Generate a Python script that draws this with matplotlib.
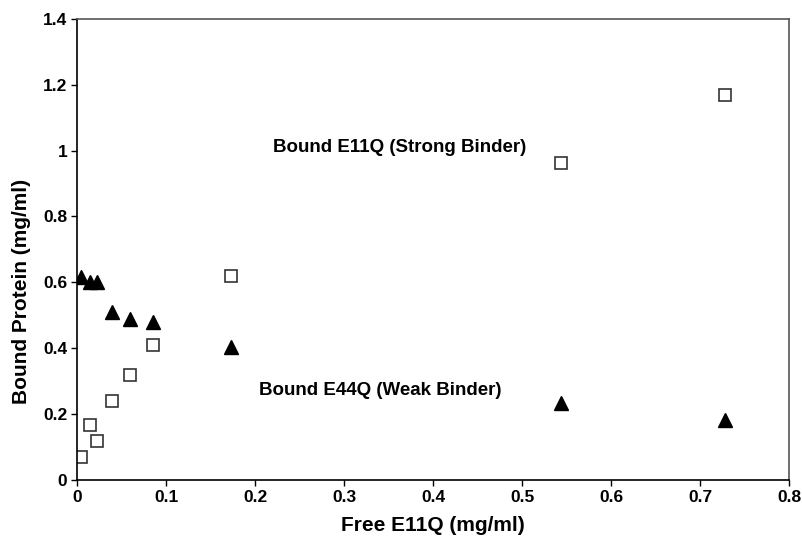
import matplotlib
matplotlib.use("Agg")
import matplotlib.pyplot as plt
from matplotlib.ticker import FuncFormatter

plt.rcParams['font.family'] = ['Liberation Sans', 'DejaVu Sans']
plt.rcParams['font.weight'] = 'bold'

# free E11Q (mg/ml)
free_x = [0.005, 0.015, 0.022, 0.039, 0.060, 0.085, 0.173, 0.544, 0.728]
# bound protein (mg/ml)
strong_y = [0.07, 0.167, 0.118, 0.24, 0.318, 0.41, 0.62, 0.963, 1.168]
weak_y = [0.615, 0.60, 0.60, 0.51, 0.49, 0.48, 0.405, 0.233, 0.183]

xticks = [0, 0.1, 0.2, 0.3, 0.4, 0.5, 0.6, 0.7, 0.8]
yticks = [0, 0.2, 0.4, 0.6, 0.8, 1.0, 1.2, 1.4]

fig = plt.figure(figsize=(8.02, 5.37), dpi=100)
ax = fig.add_axes([0.096, 0.106, 0.888, 0.859])

ax.plot(free_x, strong_y, ls='none', marker='s', ms=9, mfc='white',
        mec='#333333', mew=1.2)
ax.plot(free_x, weak_y, ls='none', marker='^', ms=10, mfc='black',
        mec='black')

ax.text(0.22, 1.01, "Bound E11Q (Strong Binder)", fontsize=13.5, fontweight='bold',
        va='center', ha='left')
ax.text(0.204, 0.273, "Bound E44Q (Weak Binder)", fontsize=13.5, fontweight='bold',
        va='center', ha='left')

ax.set_xlim(0, 0.8)
ax.set_ylim(0, 1.4)
ax.set_xticks(xticks)
ax.set_yticks(yticks)
ax.xaxis.set_major_formatter(FuncFormatter(lambda v, p: f"{v:g}"))
ax.yaxis.set_major_formatter(FuncFormatter(lambda v, p: f"{v:g}"))
ax.tick_params(direction='out', length=4, width=1, labelsize=12.5, pad=3)
for lab in ax.get_xticklabels() + ax.get_yticklabels():
    lab.set_fontweight('bold')

for s in ['top', 'right']:
    ax.spines[s].set_color('#555555')
    ax.spines[s].set_linewidth(1.2)
for s in ['left', 'bottom']:
    ax.spines[s].set_linewidth(1.2)

ax.set_xlabel("Free E11Q (mg/ml)", fontsize=15, fontweight='bold', labelpad=8)
ax.set_ylabel("Bound Protein (mg/ml)", fontsize=15, fontweight='bold')
ax.yaxis.set_label_coords(-0.064, 0.41)

fig.savefig("out.png", dpi=100)
